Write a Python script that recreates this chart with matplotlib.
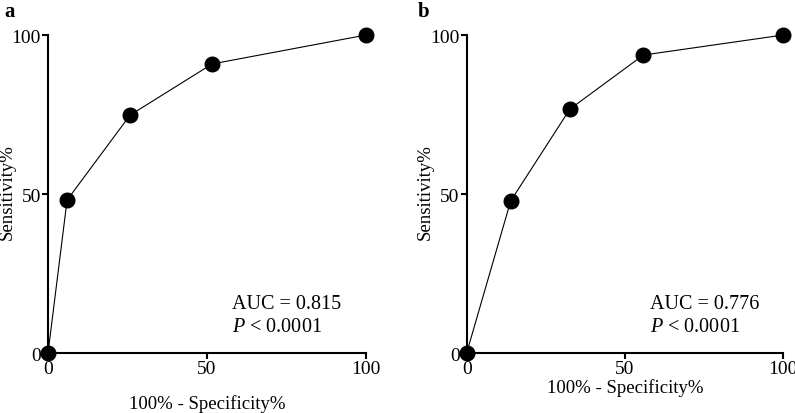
import matplotlib.pyplot as plt

plt.rcParams['font.family'] = ['Liberation Serif', 'DejaVu Serif']
plt.rcParams['mathtext.fontset'] = 'custom'
plt.rcParams['mathtext.rm'] = 'Liberation Serif'
plt.rcParams['mathtext.it'] = 'Liberation Serif:italic'

# ROC points (100% - specificity, sensitivity)
fpr_a = [0, 6.0, 25.8, 51.6, 100]
sens_a = [0, 48.1, 74.8, 90.9, 100]
fpr_b = [0, 13.9, 32.6, 55.8, 100]
sens_b = [0, 47.8, 76.7, 93.7, 100]

panels = ['a', 'b']
auc_text = ['AUC = 0.815', 'AUC = 0.776']
p_text = ['$\\mathit{P}$ < 0.0001', '$\\mathit{P}$ < 0.0001']
ticks = [0, 50, 100]

fig = plt.figure(figsize=(7.95, 4.14), dpi=100)
ax_a = fig.add_axes([0.0604, 0.1449, 0.400, 0.7681])
ax_b = fig.add_axes([0.5870, 0.1449, 0.3983, 0.7681])

for ax, x, y, lab, auc, p in zip([ax_a, ax_b], [fpr_a, fpr_b], [sens_a, sens_b],
                                 panels, auc_text, p_text):
    ax.plot(x, y, color='black', linewidth=0.8, marker='o', markersize=10.5,
            markerfacecolor='black', clip_on=False, zorder=5)
    ax.set_xlim(0, 100)
    ax.set_ylim(0, 100)
    ax.set_xticks(ticks)
    ax.set_yticks(ticks)
    ax.spines['top'].set_visible(False)
    ax.spines['right'].set_visible(False)
    ax.spines['left'].set_linewidth(1.5)
    ax.spines['bottom'].set_linewidth(1.5)
    ax.tick_params(direction='out', length=4, width=1.5, labelsize=14, pad=1)
    ax.set_xlabel('100% - Specificity%', fontsize=13.5)
    ax.set_ylabel('Sensitivity%', fontsize=13.5)
    ax.text(58, 15.5, auc, fontsize=14.5, va='center')
    ax.text(58, 8.2, p, fontsize=14.5, va='center')

ax_a.xaxis.set_label_coords(0.5, -0.128)
ax_b.xaxis.set_label_coords(0.5, -0.08)
ax_a.yaxis.set_label_coords(-0.10, 0.51)
ax_b.yaxis.set_label_coords(-0.103, 0.51)
fig.text(0.006, 0.97, 'a', fontsize=15, fontweight='bold', va='center')
fig.text(0.525, 0.97, 'b', fontsize=15, fontweight='bold', va='center')

fig.savefig('out.png', dpi=100)
